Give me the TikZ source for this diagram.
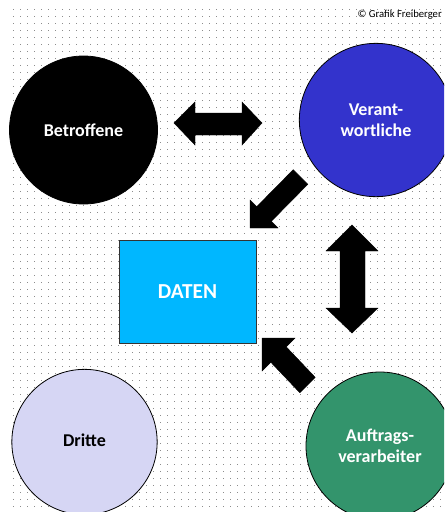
\documentclass[tikz,border=0pt]{standalone}
\usepackage{fontspec}
\setmainfont{Carlito}
\usepackage{tikz}
\usepackage{xcolor}

\definecolor{verantBlue}{RGB}{51,51,204}
\definecolor{datenCyan}{RGB}{0,183,255}
\definecolor{dritteLila}{RGB}{214,214,244}
\definecolor{auftragGruen}{RGB}{51,148,108}

\tikzset{
  kreis/.style={circle, draw=black, line width=0.6pt, inner sep=0pt, align=center,
    font=\fontsize{13.5}{16}\selectfont\bfseries},
  blockpfeil/.style={fill=black, draw=black, line width=0.3pt},
  punkt/.style={fill=black!45}
}

\begin{document}
\begin{tikzpicture}[x=0.75pt,y=0.75pt,yscale=-1,xscale=1]
\useasboundingbox (0,0) rectangle (444,512);
\clip (0,0) rectangle (444,512);
\fill[white] (0,0) rectangle (444,512);
%Dot grid
\foreach \i in {0,...,61} {
  \foreach \j in {0,...,71} {
    \fill[punkt] (13+7*\i,9+7*\j) rectangle ++(1,1);
  }
}
%Shape: Circle [Betroffene]
\draw (83.5,130) node [kreis, fill=black, text=white, minimum size=111pt] (betroffene) {Betroffene};
%Shape: Circle [Verantwortliche]
\draw (376,120) node [kreis, fill=verantBlue, text=white, minimum size=115pt] (verant) {Verant-\\wortliche};
%Shape: Rectangle [DATEN]
\draw (187.5,291.5) node [draw=black!80, line width=0.6pt, fill=datenCyan, text=white, minimum width=102.75pt, minimum height=77.25pt, font=\fontsize{16}{18}\selectfont\bfseries] (daten) {DATEN};
%Shape: Circle [Dritte]
\draw (84.5,442) node [kreis, fill=dritteLila, text=black, minimum size=109pt] (dritte) {\raisebox{3pt}{Dritte}};
%Shape: Circle [Auftragsverarbeiter]
\draw (380,446) node [kreis, fill=auftragGruen, text=white, minimum size=111pt] (auftrag) {Auftrags-\\verarbeiter};

%Shape: Double Arrow [horizontal]
\draw [blockpfeil] (174,123) -- (195,102) -- (195,113) -- (242,113) -- (242,102) -- (262,123) -- (242,145) -- (242,135) -- (195,135) -- (195,145) -- cycle ;
%Shape: Double Arrow [vertical]
\draw [blockpfeil] (352,225) -- (378,251) -- (365,251) -- (365,308) -- (378,308) -- (352,333) -- (326,308) -- (340,308) -- (340,251) -- (326,251) -- cycle ;
%Shape: Arrow [Verantwortliche to DATEN]
\draw [blockpfeil] (250,228) -- (250,200) -- (256.7,206.7) -- (293.2,169.7) -- (307.8,184.3) -- (271.3,221.3) -- (278,228) -- cycle ;
%Shape: Arrow [Auftragsverarbeiter to DATEN]
\draw [blockpfeil] (262,338) -- (295,338) -- (286.2,346.8) -- (315.2,377.3) -- (299.8,392.7) -- (270.8,362.2) -- (262,371) -- cycle ;

% Text Node
\draw (443,15) node [anchor=east][inner sep=0.75pt] [font=\fontsize{8}{9}\selectfont] (copyright) {© Grafik Freiberger};
\end{tikzpicture}
\end{document}
